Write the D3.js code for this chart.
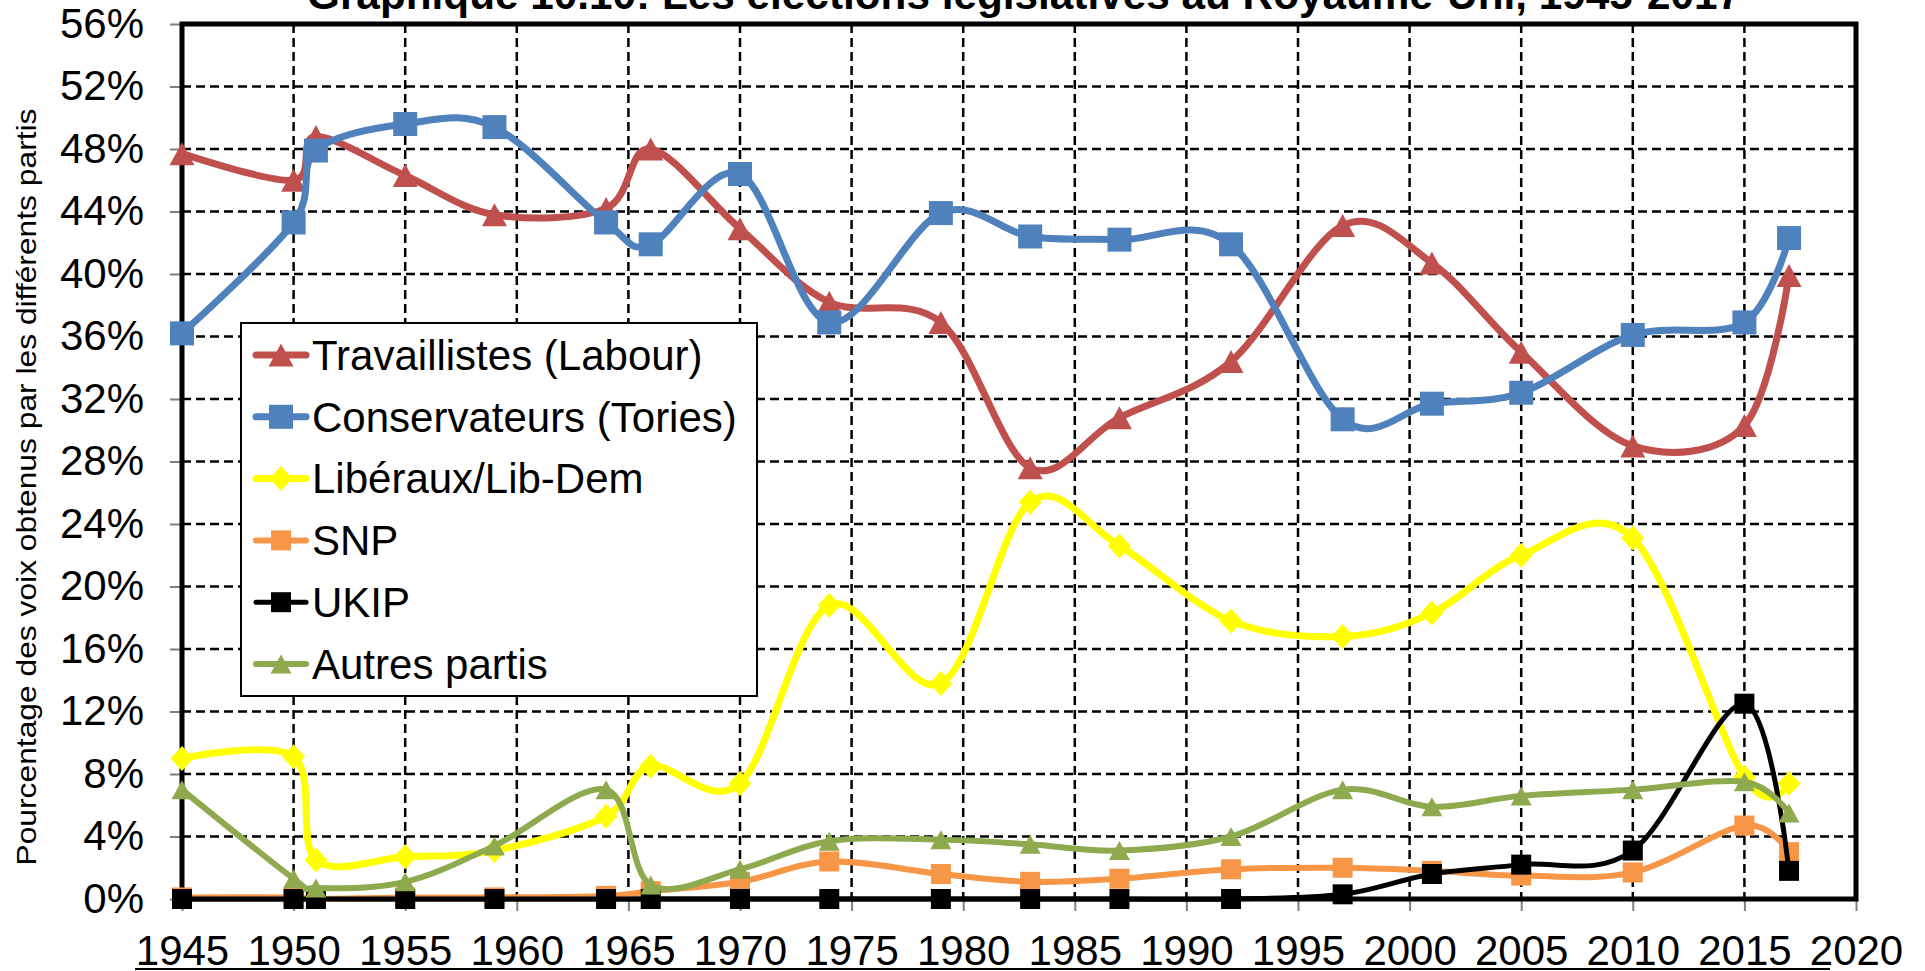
<!DOCTYPE html>
<html>
<head>
<meta charset="utf-8">
<script src="https://cdn.jsdelivr.net/npm/d3@7"></script>
<style>
  html, body { margin: 0; padding: 0; background: #fff; }
  svg { display: block; font-family: "Liberation Sans", Arial, sans-serif; }
</style>
</head>
<body>
<svg id="chart" width="1925" height="971"></svg>
<script>
// ---- Data ----
const years = [1945,1950,1951,1955,1959,1964,1966,1970,1974,1979,1983,1987,1992,1997,2001,2005,2010,2015,2017];
const labour = [47.7,46.0,48.8,46.3,43.8,44.2,48.0,42.9,38.2,36.9,27.6,30.8,34.4,43.1,40.7,35.0,29.0,30.3,39.9];
const conservateurs = [36.2,43.3,47.9,49.6,49.4,43.3,41.9,46.4,36.9,43.9,42.4,42.2,41.9,30.7,31.7,32.4,36.1,36.9,42.3];
const liberaux = [9.0,9.1,2.5,2.7,3.1,5.3,8.5,7.4,18.8,13.8,25.4,22.6,17.8,16.8,18.3,22.0,23.1,7.8,7.4];
const snp = [0.1,0.1,0.0,0.1,0.1,0.2,0.5,1.1,2.4,1.6,1.1,1.3,1.9,2.0,1.8,1.5,1.7,4.7,3.0];
const ukip = [0,0,0,0,0,0,0,0,0,0,0,0,0,0.3,1.6,2.2,3.1,12.5,1.8];
const autres = [7.0,1.3,0.7,1.1,3.4,7.0,0.9,1.9,3.7,3.8,3.5,3.1,4.0,7.0,5.9,6.6,7.0,7.5,5.5];

const seriesNames = ["Travaillistes (Labour)","Conservateurs (Tories)","Libéraux/Lib-Dem","SNP","UKIP","Autres partis"];
const xTicks = [1945,1950,1955,1960,1965,1970,1975,1980,1985,1990,1995,2000,2005,2010,2015,2020];
const yTicks = [0,4,8,12,16,20,24,28,32,36,40,44,48,52,56];
const titleText = "Graphique 10.10: Les élections législatives au Royaume-Uni, 1945-2017";
const yAxisTitle = "Pourcentage des voix obtenus par les différents partis";

// ---- Styles ----
const styles = [
  {color:"#C0504D", width:7, marker:"triangle", mw:25, mh:23},
  {color:"#4F81BD", width:7, marker:"square",   mw:24, mh:24},
  {color:"#FFFF00", width:7, marker:"diamond",  mw:23, mh:25},
  {color:"#F79646", width:6, marker:"square",   mw:20, mh:20},
  {color:"#000000", width:5, marker:"square",   mw:20, mh:20},
  {color:"#8EA94E", width:6, marker:"triangle", mw:21, mh:19}
];
const allValues = [labour, conservateurs, liberaux, snp, ukip, autres];

const L = 182, R = 1856, T = 24, B = 899;
const svg = d3.select("#chart");
const x = d3.scaleLinear().domain([1945, 2020]).range([L, R]);
const y = d3.scaleLinear().domain([0, 56]).range([B, T]);

// Title
svg.append("text")
  .attr("x", 1024).attr("y", 9)
  .attr("text-anchor", "middle")
  .attr("font-weight", "bold")
  .attr("font-size", 42)
  .attr("textLength", 1434).attr("lengthAdjust", "spacingAndGlyphs")
  .text(titleText);

// Gridlines
const grid = svg.append("g").attr("class", "grid");
grid.selectAll("line.h").data(yTicks.filter(d => d > 0 && d < 56)).join("line")
  .attr("x1", L).attr("x2", R)
  .attr("y1", d => y(d)).attr("y2", d => y(d))
  .attr("stroke", "#000").attr("stroke-width", 2.5).attr("stroke-dasharray", "9,5");
grid.selectAll("line.v").data(xTicks.filter(d => d > 1945 && d < 2020)).join("line")
  .attr("y1", T).attr("y2", B)
  .attr("x1", d => x(d)).attr("x2", d => x(d))
  .attr("stroke", "#000").attr("stroke-width", 2.5).attr("stroke-dasharray", "9,5");

// Axes
const yAxis = d3.axisLeft(y).tickValues(yTicks).tickFormat(d => d + "%").tickSize(12).tickPadding(26);
const gy = svg.append("g").attr("transform", `translate(${L},0)`).call(yAxis);
gy.select(".domain").remove();
gy.selectAll(".tick line").attr("stroke", "#7f7f7f").attr("stroke-width", 2);
gy.selectAll(".tick text").attr("font-size", 42).attr("fill", "#000")
  .attr("font-family", "'Liberation Sans', Arial, sans-serif");

const xAxis = d3.axisBottom(x).tickValues(xTicks).tickFormat(d3.format("d")).tickSize(12).tickPadding(24);
const gx = svg.append("g").attr("transform", `translate(0,${B})`).call(xAxis);
gx.select(".domain").remove();
gx.selectAll(".tick line").attr("stroke", "#7f7f7f").attr("stroke-width", 2);
gx.selectAll(".tick text").attr("font-size", 42).attr("fill", "#000")
  .attr("font-family", "'Liberation Sans', Arial, sans-serif");

// Plot frame
svg.append("rect").attr("x", L).attr("y", T).attr("width", R - L).attr("height", B - T)
  .attr("fill", "none").attr("stroke", "#000").attr("stroke-width", 5);

// Y axis title
svg.append("text")
  .attr("transform", `translate(36,487) rotate(-90)`)
  .attr("text-anchor", "middle")
  .attr("font-size", 28)
  .attr("textLength", 757).attr("lengthAdjust", "spacingAndGlyphs")
  .text(yAxisTitle);

// Marker path generator
function markerPath(type, w, h) {
  const hw = w / 2, hh = h / 2;
  if (type === "triangle") return `M0,${-hh}L${hw},${hh}L${-hw},${hh}Z`;
  if (type === "diamond") return `M0,${-hh}L${hw},0L0,${hh}L${-hw},0Z`;
  return `M${-hw},${-hh}H${hw}V${hh}H${-hw}Z`;
}

const line = d3.line().x(d => x(d[0])).y(d => y(d[1])).curve(d3.curveCardinal.tension(0));

const plot = svg.append("g");
allValues.forEach((vals, i) => {
  const st = styles[i];
  const pts = years.map((yr, j) => [yr, vals[j]]);
  const g = plot.append("g");
  g.append("path").attr("d", line(pts)).attr("fill", "none")
    .attr("stroke", st.color).attr("stroke-width", st.width)
    .attr("stroke-linejoin", "round").attr("stroke-linecap", "round");
  g.selectAll("path.m").data(pts).join("path")
    .attr("class", "m")
    .attr("transform", d => `translate(${x(d[0])},${y(d[1])})`)
    .attr("d", markerPath(st.marker, st.mw, st.mh))
    .attr("fill", st.color);
});

// Legend
const lg = svg.append("g");
lg.append("rect").attr("x", 241).attr("y", 323).attr("width", 516).attr("height", 373)
  .attr("fill", "#fff").attr("stroke", "#000").attr("stroke-width", 2);
seriesNames.forEach((name, i) => {
  const st = styles[i];
  const cy = 355 + i * 61.8;
  lg.append("line").attr("x1", 256).attr("x2", 306).attr("y1", cy).attr("y2", cy)
    .attr("stroke", st.color).attr("stroke-width", st.width).attr("stroke-linecap", "round");
  lg.append("path").attr("transform", `translate(281,${cy})`)
    .attr("d", markerPath(st.marker, st.mw, st.mh)).attr("fill", st.color);
  lg.append("text").attr("x", 312).attr("y", cy).attr("dy", "0.35em")
    .attr("font-size", 42).text(name);
});

// Bottom rule
svg.append("line").attr("x1", 135).attr("x2", 1830).attr("y1", 969).attr("y2", 969)
  .attr("stroke", "#000").attr("stroke-width", 2);
</script>
</body>
</html>
